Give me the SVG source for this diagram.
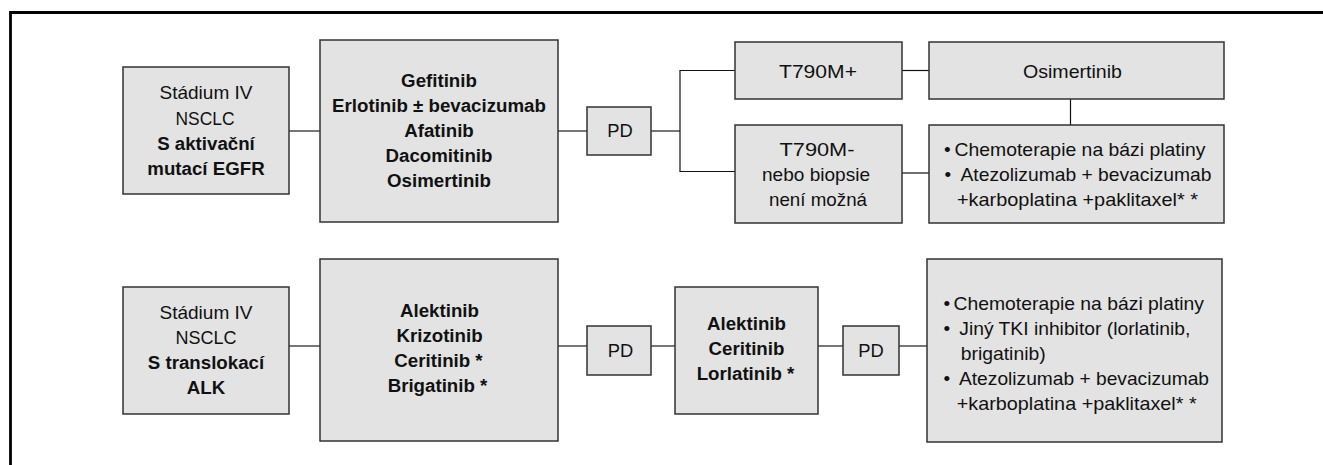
<svg xmlns="http://www.w3.org/2000/svg" width="1323" height="465" viewBox="0 0 1323 465">
<style>
.box{fill:#e3e3e3;stroke:#333;stroke-width:1.5}
.t{font-family:"Liberation Sans",Arial,sans-serif;font-size:19px;fill:#111;text-anchor:middle}
.l{font-family:"Liberation Sans",Arial,sans-serif;font-size:19px;fill:#111}
.b{font-weight:bold;font-size:18.7px}
.cg{stroke:#777;stroke-width:2;fill:none}
.ck{stroke:#111;stroke-width:1.2;fill:none}
</style>
<rect width="1323" height="465" fill="#fff"/>
<path d="M10.5 465 V12.5 H1323" fill="none" stroke="#000" stroke-width="2.8"/>
<g id="connectors">
<line class="cg" x1="289" y1="131" x2="320" y2="131"/>
<line class="cg" x1="558" y1="131" x2="587" y2="131"/>
<line class="cg" x1="651" y1="131" x2="680" y2="131"/>
<path class="ck" d="M735 70.5 H680 V171.5 H735"/>
<line class="ck" x1="902" y1="70.5" x2="929" y2="70.5"/>
<line class="ck" x1="902" y1="173" x2="929" y2="173"/>
<line class="ck" x1="1070.5" y1="99" x2="1070.5" y2="125"/>
<line class="cg" x1="289" y1="346" x2="320" y2="346"/>
<line class="cg" x1="558" y1="346" x2="587" y2="346"/>
<line class="cg" x1="651" y1="346" x2="675" y2="346"/>
<line class="cg" x1="818" y1="346" x2="843" y2="346"/>
<line class="cg" x1="899" y1="346" x2="927" y2="346"/>
</g>
<g id="egfr-stage">
<rect class="box" x="123" y="67" width="166" height="127"/>
<text class="t" x="206" y="99" textLength="93" lengthAdjust="spacingAndGlyphs">Stádium IV</text>
<text class="t" x="205" y="124.5" textLength="59" lengthAdjust="spacingAndGlyphs">NSCLC</text>
<text class="t b" x="206" y="150">S aktivační</text>
<text class="t b" x="206" y="175">mutací EGFR</text>
</g>
<g id="egfr-drugs">
<rect class="box" x="320" y="40" width="238" height="182"/>
<text class="t b" x="439" y="87">Gefitinib</text>
<text class="t b" x="439" y="112">Erlotinib ± bevacizumab</text>
<text class="t b" x="439" y="137">Afatinib</text>
<text class="t b" x="439" y="162">Dacomitinib</text>
<text class="t b" x="439" y="187">Osimertinib</text>
</g>
<g id="pd1">
<rect class="box" x="587" y="107" width="64" height="48"/>
<text class="t" x="620" y="137" textLength="25.5" lengthAdjust="spacingAndGlyphs">PD</text>
</g>
<g id="t790m-pos">
<rect class="box" x="735" y="42" width="167" height="57"/>
<text class="t" x="818" y="78" textLength="78" lengthAdjust="spacingAndGlyphs">T790M+</text>
</g>
<g id="t790m-neg">
<rect class="box" x="735" y="125" width="167" height="98"/>
<text class="t" x="817" y="156" textLength="75" lengthAdjust="spacingAndGlyphs">T790M-</text>
<text class="t" x="816" y="181" textLength="108" lengthAdjust="spacingAndGlyphs">nebo biopsie</text>
<text class="t" x="818" y="206" textLength="98" lengthAdjust="spacingAndGlyphs">není možná</text>
</g>
<g id="osimertinib">
<rect class="box" x="929" y="42" width="295" height="57"/>
<text class="t" x="1072.5" y="78" textLength="99" lengthAdjust="spacingAndGlyphs">Osimertinib</text>
</g>
<g id="egfr-chemo">
<rect class="box" x="929" y="125" width="295" height="98"/>
<text class="l" x="944" y="156">•</text>
<text class="l" x="954.5" y="156" textLength="251" lengthAdjust="spacingAndGlyphs">Chemoterapie na bázi platiny</text>
<text class="l" x="944.5" y="181">•</text>
<text class="l" x="960.5" y="181" textLength="251" lengthAdjust="spacingAndGlyphs">Atezolizumab + bevacizumab</text>
<text class="l" x="957" y="206" textLength="241" lengthAdjust="spacingAndGlyphs">+karboplatina +paklitaxel* *</text>
</g>
<g id="alk-stage">
<rect class="box" x="123" y="287" width="166" height="127"/>
<text class="t" x="206" y="319" textLength="93" lengthAdjust="spacingAndGlyphs">Stádium IV</text>
<text class="t" x="206" y="343.5" textLength="61" lengthAdjust="spacingAndGlyphs">NSCLC</text>
<text class="t b" x="206" y="368.5">S translokací</text>
<text class="t b" x="206" y="393.5">ALK</text>
</g>
<g id="alk-drugs">
<rect class="box" x="320" y="259" width="238" height="182"/>
<text class="t b" x="439.5" y="317">Alektinib</text>
<text class="t b" x="439.5" y="342">Krizotinib</text>
<text class="t b" x="438.5" y="367">Ceritinib *</text>
<text class="t b" x="437.5" y="392">Brigatinib *</text>
</g>
<g id="pd2">
<rect class="box" x="587" y="326" width="64" height="49"/>
<text class="t" x="620.5" y="357" textLength="25.5" lengthAdjust="spacingAndGlyphs">PD</text>
</g>
<g id="alk-second">
<rect class="box" x="675" y="287" width="143" height="127"/>
<text class="t b" x="746.5" y="330">Alektinib</text>
<text class="t b" x="746.5" y="355">Ceritinib</text>
<text class="t b" x="745.5" y="379.5">Lorlatinib *</text>
</g>
<g id="pd3">
<rect class="box" x="843" y="326" width="56" height="49"/>
<text class="t" x="871" y="357" textLength="25.5" lengthAdjust="spacingAndGlyphs">PD</text>
</g>
<g id="alk-chemo">
<rect class="box" x="927" y="259" width="295" height="183"/>
<text class="l" x="943.5" y="310">•</text>
<text class="l" x="953.5" y="310" textLength="250.5" lengthAdjust="spacingAndGlyphs">Chemoterapie na bázi platiny</text>
<text class="l" x="943.5" y="335">•</text>
<text class="l" x="959.3" y="335" textLength="231" lengthAdjust="spacingAndGlyphs">Jiný TKI inhibitor (lorlatinib,</text>
<text class="l" x="960.7" y="360" textLength="85" lengthAdjust="spacingAndGlyphs">brigatinib)</text>
<text class="l" x="943.5" y="385">•</text>
<text class="l" x="959" y="385" textLength="250" lengthAdjust="spacingAndGlyphs">Atezolizumab + bevacizumab</text>
<text class="l" x="956.7" y="410" textLength="240" lengthAdjust="spacingAndGlyphs">+karboplatina +paklitaxel* *</text>
</g>
</svg>
